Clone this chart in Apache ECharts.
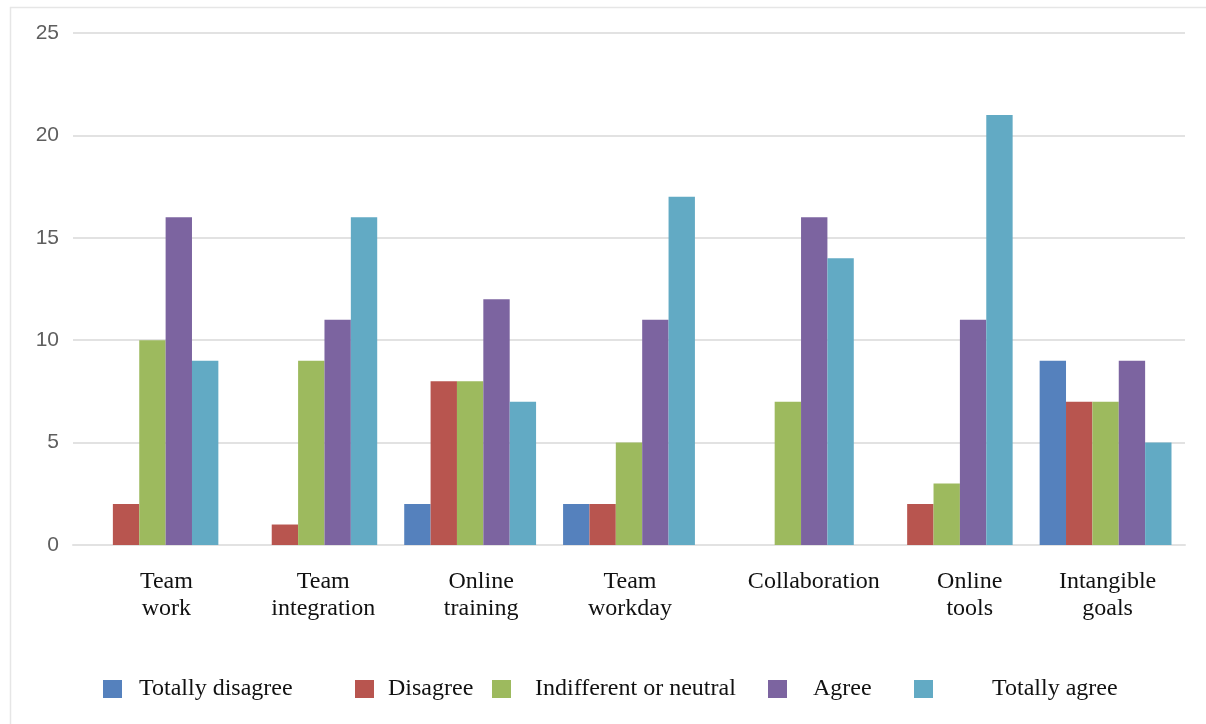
<!DOCTYPE html>
<html>
<head>
<meta charset="utf-8">
<style>
  html, body { margin: 0; padding: 0; background: #ffffff; }
  #chart { width: 1206px; height: 724px; }
</style>
<script src="https://cdn.jsdelivr.net/npm/echarts@6/dist/echarts.min.js"></script>
</head>
<body>
<div id="chart"></div>
<script>
// Survey answers per topic
const categories = ['Team\nwork', 'Team\nintegration', 'Online\ntraining', 'Team\nworkday', 'Collaboration', 'Online\ntools', 'Intangible\ngoals'];
const seriesNames = ['Totally disagree', 'Disagree', 'Indifferent or neutral', 'Agree', 'Totally agree'];
const totallyDisagree = [0, 0, 2, 2, 0, 0, 9];
const disagree        = [2, 1, 8, 2, 0, 2, 7];
const neutral         = [10, 9, 8, 5, 7, 3, 7];
const agree           = [16, 11, 12, 11, 16, 11, 9];
const totallyAgree    = [9, 16, 7, 17, 14, 21, 5];
const yTicks = [0, 5, 10, 15, 20, 25];

const colors = ['#5581BD', '#B8554F', '#9DBA5E', '#7C64A0', '#62AAC4'];
const values = [totallyDisagree, disagree, neutral, agree, totallyAgree];

const serif = '"Liberation Serif", "DejaVu Serif", serif';
const gridColor = '#E2E2E2';

// horizontal nudge (px) of each category label
const labelShift = [14, 12, 11, 1, 26, 23, 2];

// legend entries laid out individually along the bottom
const legendLeft = [103, 355, 492, 768, 914];
const legendTextPad = [12, 9, 19, 21, 54];

const labelRich = {};
labelShift.forEach((s, i) => {
  labelRich['c' + i] = {
    fontFamily: serif,
    fontSize: 24,
    lineHeight: 27,
    color: '#111111',
    padding: [0, 0, 0, 2 * s]
  };
});

const chart = echarts.init(document.getElementById('chart'));
chart.setOption({
  animation: false,
  backgroundColor: '#ffffff',
  color: colors,
  graphic: [{
    type: 'rect',
    shape: { x: 10.5, y: 7.5, width: 1300, height: 800 },
    style: { fill: 'none', stroke: '#E6E6E6', lineWidth: 1.5 },
    silent: true,
    z: -1
  }],
  grid: { left: 73, right: 21, top: 33, bottom: 179, containLabel: false },
  legend: seriesNames.map((name, i) => ({
    data: [name],
    left: legendLeft[i],
    top: 677,
    padding: 0,
    itemWidth: 19,
    itemHeight: 18,
    icon: 'rect',
    textStyle: {
      fontFamily: serif,
      fontSize: 24,
      lineHeight: 22,
      color: '#111111',
      padding: [0, 0, 0, legendTextPad[i]]
    }
  })),
  xAxis: {
    type: 'category',
    data: categories,
    axisLine: { show: true, lineStyle: { color: gridColor, width: 2 } },
    axisTick: { show: false },
    axisLabel: {
      interval: 0,
      margin: 23,
      fontFamily: serif,
      fontSize: 24,
      lineHeight: 27,
      color: '#111111',
      formatter: (value, index) =>
        value.split('\n').map(line => '{c' + index + '|' + line + '}').join('\n'),
      rich: labelRich
    }
  },
  yAxis: {
    type: 'value',
    min: yTicks[0],
    max: yTicks[yTicks.length - 1],
    interval: 5,
    axisLine: { show: false },
    axisTick: { show: false },
    splitLine: { lineStyle: { color: gridColor, width: 2 } },
    axisLabel: {
      margin: 14,
      fontFamily: '"Liberation Sans", "Open Sans", sans-serif',
      fontSize: 21,
      color: '#5E5E5E'
    }
  },
  series: seriesNames.map((name, i) => ({
    name: name,
    type: 'bar',
    data: values[i],
    barGap: '0%',
    barCategoryGap: '17%',
    itemStyle: { color: colors[i] }
  }))
});
</script>
</body>
</html>
